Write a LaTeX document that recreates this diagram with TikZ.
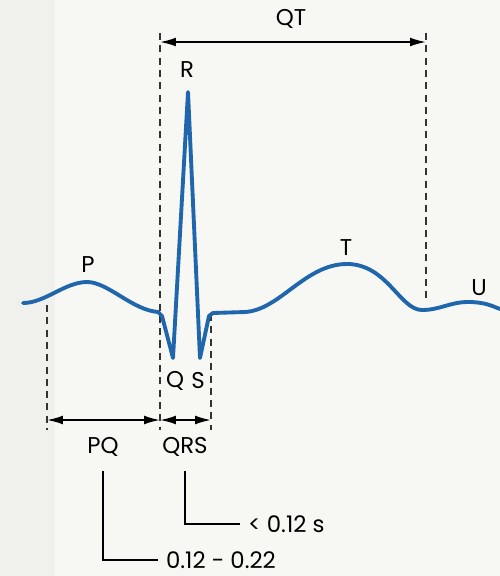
\documentclass[tikz,border=0pt]{standalone}
\usepackage{fontspec}
\setmainfont{Poppins}
\usepackage{tikz}
\usetikzlibrary{arrows.meta,positioning,calc}

\definecolor{ecgblue}{HTML}{1F66AD}
\definecolor{paper}{HTML}{F7F7F3}
\definecolor{paperdark}{HTML}{F0F0EC}

\begin{document}
\begin{tikzpicture}[
    x=0.02cm, y=-0.02cm,
    font=\fontsize{13}{15}\selectfont,
    wave/.style={ecgblue, line width=2.2pt, line join=round, line cap=round},
    guide/.style={black!80, line width=0.7pt, dash pattern=on 4pt off 3pt},
    span/.style={{Latex[length=9pt,width=5pt]}-{Latex[length=9pt,width=5pt]}, line width=1pt},
    leader/.style={line width=0.7pt},
    lbl/.style={inner sep=1pt}
]
    % paper
    \fill[paper] (0,0) rectangle (500,576);
    \fill[paperdark] (0,0) rectangle (55,576);
    \useasboundingbox (0,0) rectangle (500,576);

    % ends of the guide lines
    \coordinate (qtL) at (160,33);
    \coordinate (qtR) at (426,33);
    \coordinate (qtRb) at (426,300);
    \coordinate (pqL) at (47,305);
    \coordinate (pqLb) at (47,430);
    \coordinate (qL) at (160,430);
    \coordinate (sR) at (211,314);
    \coordinate (sRb) at (211,430);

    \draw[guide] (qtL) -- (qL);
    \draw[guide] (qtR) -- (qtRb);
    \draw[guide] (pqL) -- (pqLb);
    \draw[guide] (sR) -- (sRb);

    % the trace
    \draw[wave] (23,303) .. controls (45,303) and (65,282) .. (87,282)
        .. controls (108,282) and (132,310) .. (158,312)
        -- (162,316) -- (173,358) -- (188,92) -- (200,358) -- (209,316) -- (213,313)
        -- (245,312) .. controls (280,310) and (305,264) .. (347,264)
        .. controls (387,264) and (400,310) .. (422,310)
        .. controls (440,310) and (450,302) .. (468,302)
        .. controls (485,302) and (492,306) .. (500,309);

    % wave labels
    \node[lbl] (p) at (88,265) {P};
    \node[lbl] (r) at (187,70) {R};
    \node[lbl] (q) at (175,381) {Q};
    \node[lbl] (s) at (198,381) {S};
    \node[lbl] (t) at (346,248) {T};
    \node[lbl] (u) at (479,288) {U};

    % intervals
    \node[lbl] (qt) at (291,19) {QT};
    \draw[span] ($(qtL)+(0,9)$) -- ($(qtR)+(0,9)$);

    \coordinate (pqA) at (47,420);
    \coordinate (pqB) at (160,420);
    \coordinate (qrsB) at (211,420);
    \draw[span] (pqA) -- (pqB);
    \draw[span] (pqB) -- (qrsB);

    \node[lbl] (pq) at (103,447) {PQ};
    \node[lbl] (qrs) at (185,447) {QRS};

    % values
    \node[lbl, anchor=west] (qrsval) at (246,524) {< 0.12 s};
    \node[lbl, anchor=west] (pqval) at (164,560) {0.12 - 0.22};

    \draw[leader] ($(qrs.south)+(0,12)$) |- ($(qrsval.west)+(-6,0)$);
    \draw[leader] ($(pq.south)+(0,12)$) |- ($(pqval.west)+(-6,0)$);
\end{tikzpicture}
\end{document}
